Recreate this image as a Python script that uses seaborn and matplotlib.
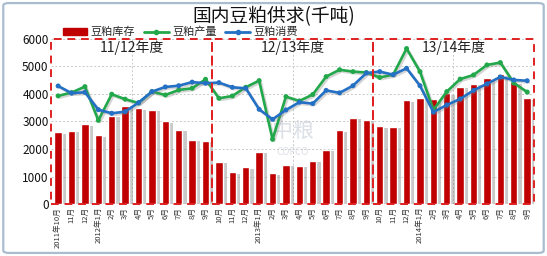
import numpy as np
import pandas as pd
import matplotlib
matplotlib.use("Agg")
import matplotlib.pyplot as plt
import matplotlib.patheffects as pe
from matplotlib.patches import Rectangle, FancyBboxPatch
from matplotlib.lines import Line2D
import seaborn as sns

sns.set_theme(style="white")
plt.rcParams['font.family'] = ['Noto Sans CJK SC', 'DejaVu Sans']

title = "国内豆粕供求(千吨)"
months = ["2011年10月", "11月", "12月", "2012年1月", "2月", "3月", "4月", "5月", "6月", "7月", "8月", "9月",
          "10月", "11月", "12月", "2013年1月", "2月", "3月", "4月", "5月", "6月", "7月", "8月", "9月",
          "10月", "11月", "12月", "2014年1月", "2月", "3月", "4月", "5月", "6月", "7月", "8月", "9月"]
seasons = ["11/12年度", "12/13年度", "13/14年度"]
stock = [2600, 2650, 2900, 2500, 3200, 3580, 3480, 3420, 3000, 2700, 2330, 2300,
         1540, 1150, 1340, 1900, 1110, 1430, 1380, 1580, 1960, 2680, 3130, 3060,
         2820, 2800, 3770, 3850, 3800, 4030, 4270, 4370, 4570, 4720, 4420, 3840]
production = [3930, 4050, 4267, 3040, 3990, 3810, 3670, 4085, 3964, 4145, 4206, 4533,
              3842, 3927, 4242, 4485, 2352, 3903, 3745, 3980, 4630, 4880, 4812, 4780,
              4600, 4700, 5650, 4812, 3420, 4085, 4540, 4691, 5055, 5140, 4400, 4070]
consumption = [4290, 4030, 4060, 3430, 3297, 3357, 3685, 4085, 4255, 4300, 4430, 4390,
               4412, 4242, 4206, 3442, 3078, 3418, 3700, 3650, 4130, 4040, 4300, 4760,
               4812, 4700, 4933, 4300, 3340, 3600, 3820, 4130, 4370, 4620, 4509, 4480]
series_names = ["豆粕库存", "豆粕产量", "豆粕消费"]

RED = "#C00000"
GREEN = "#22A84A"
BLUE = "#2470C4"

idx = np.arange(len(months))
df = pd.DataFrame({"idx": idx, "label": months, "stock": stock,
                   "production": production, "consumption": consumption})

fig = plt.figure(figsize=(5.47, 2.56), dpi=100)
fig.patch.set_facecolor("white")
ax = fig.add_axes([0.094, 0.203, 0.882, 0.645])

# outer border
fig.patches.append(FancyBboxPatch((0.006, 0.012), 0.988, 0.976,
                                  boxstyle="round,pad=0,rounding_size=0.01",
                                  transform=fig.transFigure, fill=False,
                                  edgecolor="#A9BCD0", linewidth=1.6))

# grid
for v in range(1000, 7000, 1000):
    ax.axhline(v, color="#C8C8C8", linestyle=(0, (2, 2)), linewidth=0.7, zorder=0)
for xv in [5.5, 17.5, 29.5]:
    ax.axvline(xv, color="#C8C8C8", linestyle=(0, (2, 2)), linewidth=0.7, zorder=0)

sns.barplot(data=df, x="idx", y="stock", color=RED, width=0.55, saturation=1,
            ax=ax, zorder=2, order=list(idx))
for p in ax.patches:
    p.set_path_effects([pe.SimplePatchShadow(offset=(3, -1), shadow_rgbFace="#888888", alpha=0.45),
                        pe.Normal()])

shadow = [pe.SimpleLineShadow(offset=(1.2, -1.2), shadow_color="#777777", alpha=0.3), pe.Normal()]
sns.lineplot(data=df, x="idx", y="production", color=GREEN, marker="o", markersize=3.6,
             markeredgewidth=0, linewidth=1.9, ax=ax, zorder=4, path_effects=shadow)
sns.lineplot(data=df, x="idx", y="consumption", color=BLUE, marker="o", markersize=3.6,
             markeredgewidth=0, linewidth=1.9, ax=ax, zorder=5, path_effects=shadow)

# season boxes
for k, s in enumerate(seasons):
    x0 = -0.5 + 12 * k
    ax.add_patch(Rectangle((x0, 0), 12, 6000, fill=False, edgecolor="#E02020",
                           linestyle=(0, (4, 3)), linewidth=1.4, zorder=6, clip_on=False))
    ax.text(x0 + 6, 5680, s, ha="center", va="center", fontsize=10, color="#222222", zorder=7)

# watermark
ax.text(17.5, 2650, "中粮", ha="center", va="center", fontsize=15, color="#B0B8C8", alpha=0.45, zorder=3)
ax.text(17.5, 1900, "COFCO", ha="center", va="center", fontsize=7, color="#B0B8C8", alpha=0.45, zorder=3)

ax.set_xlim(-0.5, 35.5)
ax.set_ylim(0, 6000)
ax.set_yticks(range(0, 7000, 1000))
ax.set_yticklabels([str(v) for v in range(0, 7000, 1000)], fontsize=8.5, color="#111111")
ax.set_xticks(idx)
ax.set_xticklabels(months, rotation=90, fontsize=5.5, color="#333333")
ax.tick_params(axis="both", length=0, pad=2)
ax.set_xlabel("")
ax.set_ylabel("")
for sp in ax.spines.values():
    sp.set_visible(False)

handles = [Rectangle((0, 0), 1, 1, color=RED),
           Line2D([], [], color=GREEN, marker="o", markersize=3, linewidth=2),
           Line2D([], [], color=BLUE, marker="o", markersize=3, linewidth=2)]
fig.legend(handles, series_names, loc="center left", bbox_to_anchor=(0.105, 0.875),
           ncol=3, frameon=False, fontsize=8, handlelength=2.2, handleheight=0.6,
           columnspacing=0.8, handletextpad=0.3, borderpad=0)

fig.text(0.5, 0.935, title, ha="center", va="center", fontsize=13.5, color="#111111")

fig.savefig("out.png", dpi=100)
